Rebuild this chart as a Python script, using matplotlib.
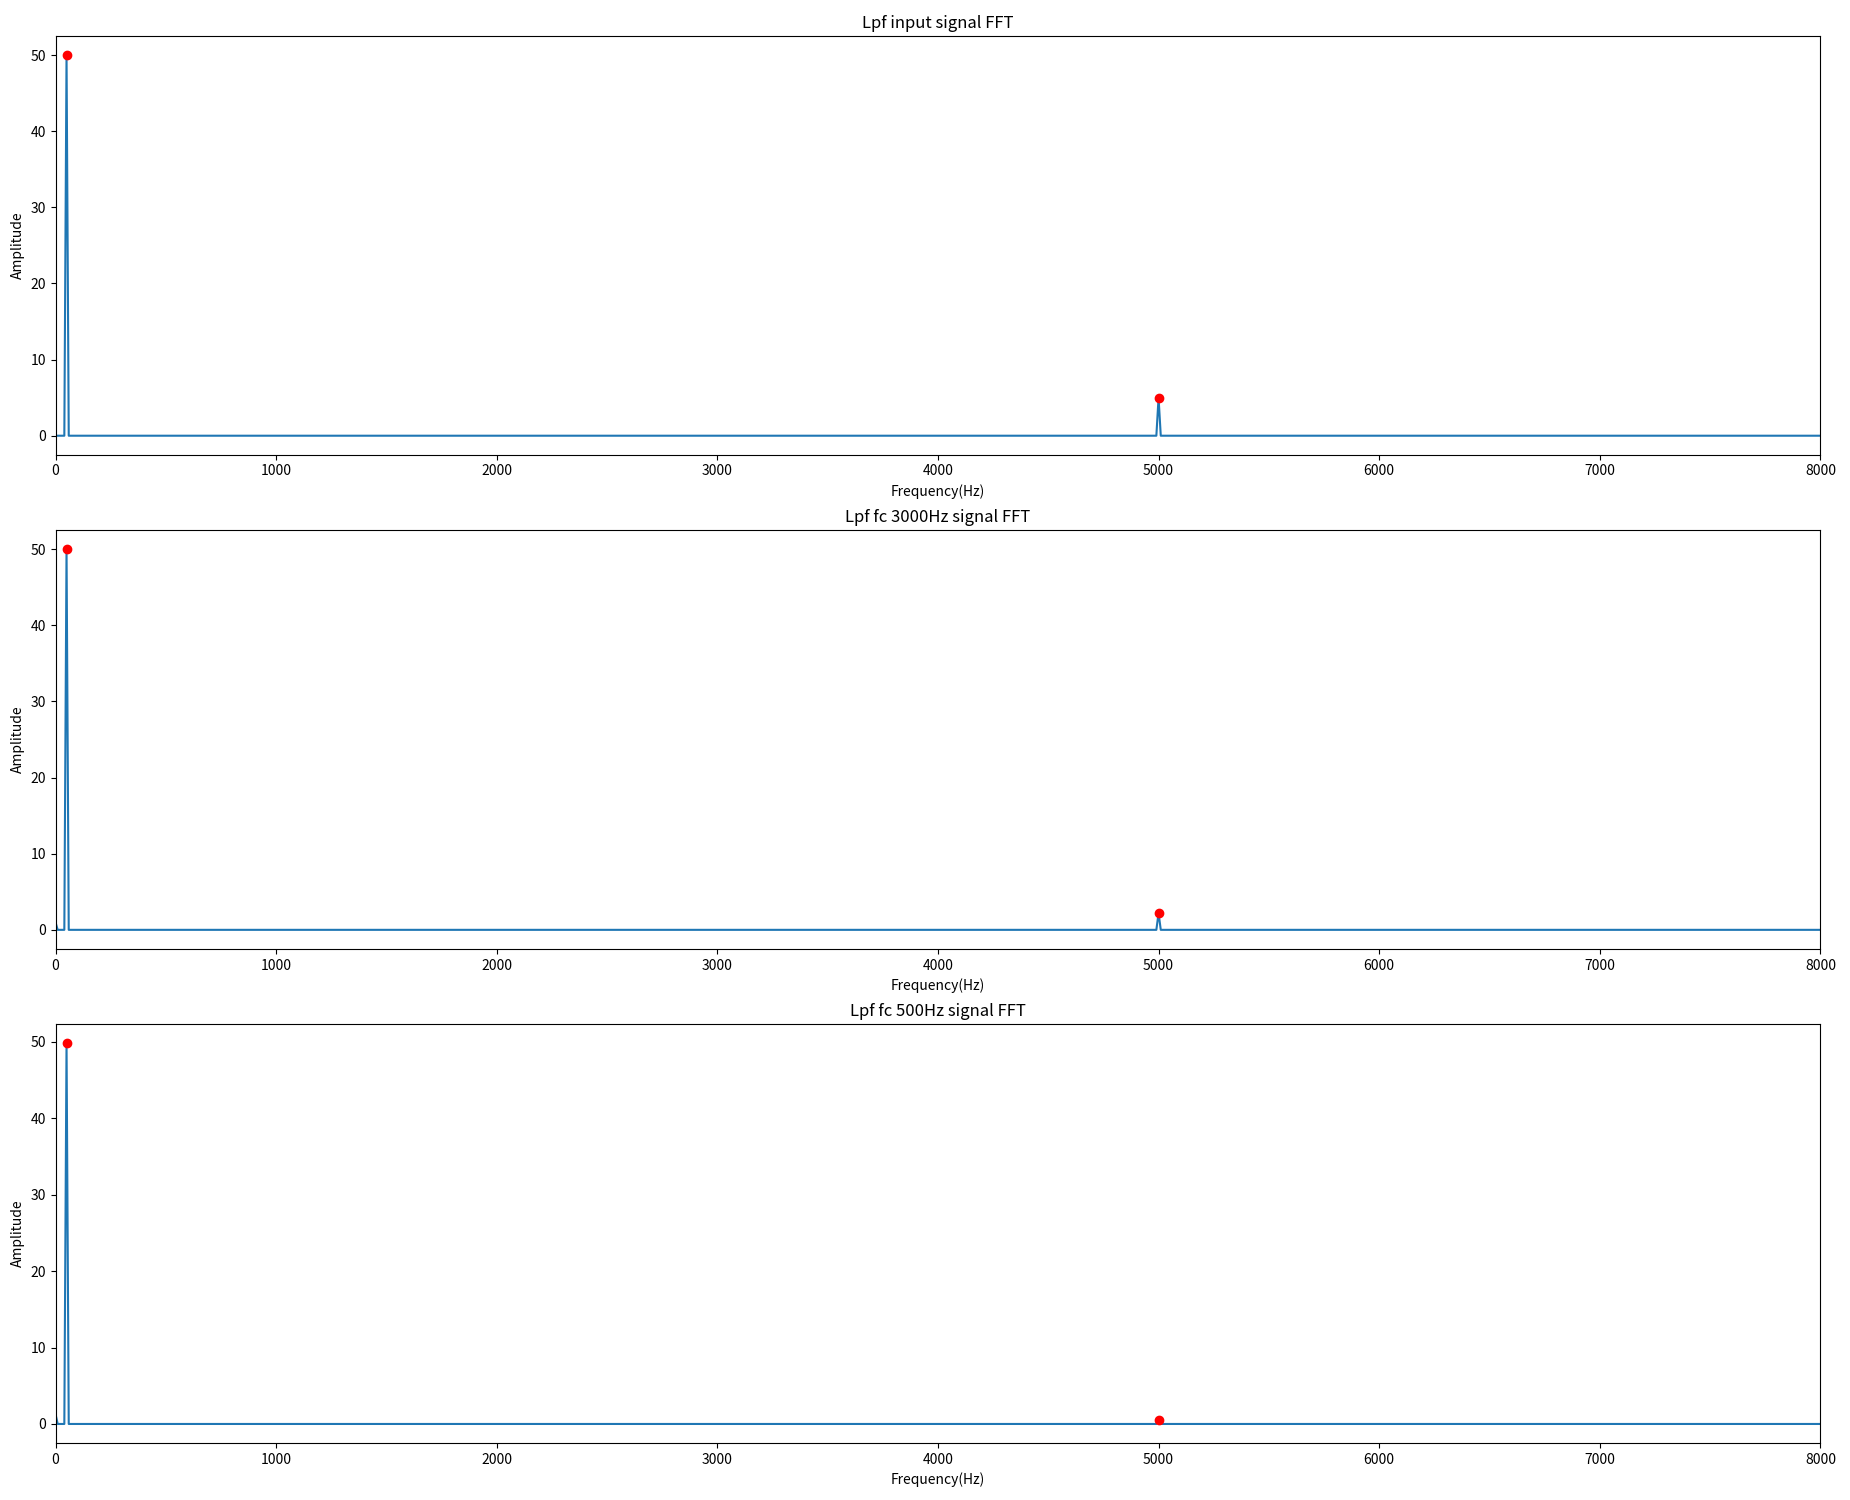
import numpy as np
import matplotlib
matplotlib.use('Agg')
import matplotlib.pyplot as plt

plt.rcParams['font.family'] = ['Noto Sans CJK SC', 'DejaVu Sans']
plt.rcParams['axes.unicode_minus'] = False

# frequency bins of the spectrum (10 Hz resolution, 0..8000 Hz)
freq_step = 10
freq_max = 8000

titles = ['Lpf input signal FFT', 'Lpf fc 3000Hz signal FFT', 'Lpf fc 500Hz signal FFT']

# non-zero bins: (frequency Hz, amplitude)
input_bins = [50, 5000]
input_amps = [50.0, 5.0]

fc3000_bins = [0, 50, 5000]
fc3000_amps = [1.0, 50.0, 2.2]

fc500_bins = [0, 50, 5000]
fc500_amps = [1.3, 49.8, 0.5]

# peaks marked with red dots
input_peaks = [(50, 50.0), (5000, 5.0)]
fc3000_peaks = [(50, 50.0), (5000, 2.2)]
fc500_peaks = [(50, 49.8), (5000, 0.5)]

freqs = np.arange(0, freq_max + freq_step, freq_step)


def spectrum(bins, amps):
    a = np.zeros(len(freqs))
    for f, v in zip(bins, amps):
        a[f // freq_step] = v
    return a


spectra = [spectrum(input_bins, input_amps),
           spectrum(fc3000_bins, fc3000_amps),
           spectrum(fc500_bins, fc500_amps)]
peaks = [input_peaks, fc3000_peaks, fc500_peaks]

fig, axes = plt.subplots(3, 1, figsize=(18.5, 15), dpi=100)
for ax, title, amp, pk in zip(axes, titles, spectra, peaks):
    ax.plot(freqs, amp)
    ax.plot([p[0] for p in pk], [p[1] for p in pk], 'ro')
    ax.set_title(title)
    ax.set_xlabel('Frequency(Hz)')
    ax.set_ylabel('Amplitude')
    ax.set_xlim(0, freq_max)

plt.subplots_adjust(left=0.030, right=0.984, top=0.976, bottom=0.038, hspace=0.18)
plt.savefig('out.png')
